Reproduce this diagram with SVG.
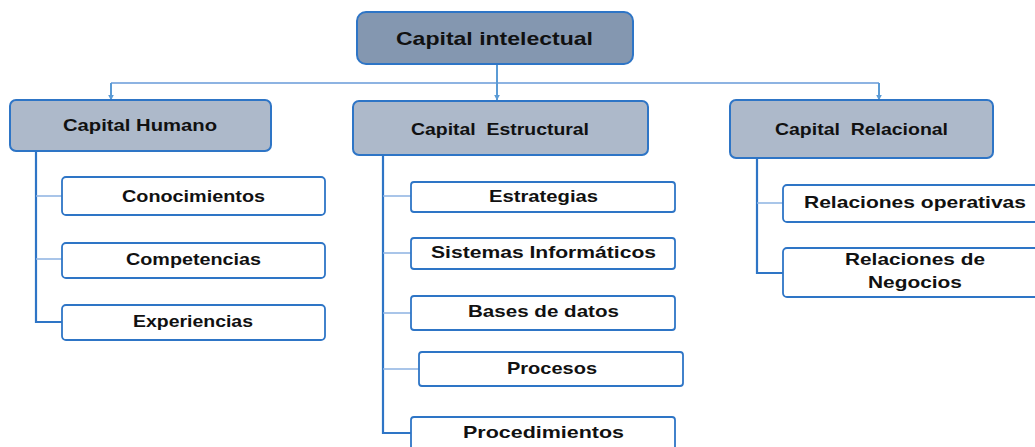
<svg xmlns="http://www.w3.org/2000/svg" width="1035" height="447" viewBox="0 0 1035 447">
<defs>
<marker id="ah" viewBox="0 0 10 10" refX="9" refY="5" markerWidth="6" markerHeight="6" markerUnits="userSpaceOnUse" orient="auto"><path d="M0,0 L10,5 L0,10 z" fill="#5B9BD5"/></marker>
<style>
.top{fill:#8497B0;stroke:#2E75C6;stroke-width:2}
.l2{fill:#ADB9CA;stroke:#2E75C6;stroke-width:2}
.l3{fill:#FFFFFF;stroke:#2E75C6;stroke-width:1.8}
text{font-family:"Liberation Sans",Arial,sans-serif;font-weight:bold;fill:#111;text-anchor:middle;font-size:16.5px}
.tt{font-size:19px}
.trunk{fill:none;stroke:#2E75C6;stroke-width:2.2}
.br{fill:none;stroke:#8DB3E2;stroke-width:1.5}
.hl{fill:none;stroke:#8DB3E2;stroke-width:1.8}
.ar{fill:none;stroke:#5B9BD5;stroke-width:2;marker-end:url(#ah)}
</style>
</defs>
<g id="connectors">
<path class="hl" d="M111,83 H879"/>
<path class="ar" d="M497,64 V100"/>
<path class="ar" d="M111,83 V100"/>
<path class="ar" d="M879,83 V100"/>
<path class="trunk" d="M36,151 V322 H62"/>
<path class="br" d="M36,196 H62 M36,259 H62"/>
<path class="trunk" d="M383,155 V433 H411"/>
<path class="br" d="M383,196 H411 M383,253 H411 M383,313 H411 M383,369 H419"/>
<path class="trunk" d="M757,158 V273 H783"/>
<path class="br" d="M757,203 H783"/>
</g>
<g id="capital-intelectual"><rect class="top" x="357" y="12" width="276" height="52" rx="9"/><text class="tt" x="494.5" y="45" textLength="197" lengthAdjust="spacingAndGlyphs">Capital intelectual</text></g>
<g id="capital-humano"><rect class="l2" x="10" y="100" width="261" height="51" rx="6"/><text x="140" y="131" textLength="154" lengthAdjust="spacingAndGlyphs">Capital Humano</text></g>
<g id="conocimientos"><rect class="l3" x="62" y="177" width="263" height="38" rx="4"/><text x="193.5" y="202" textLength="143" lengthAdjust="spacingAndGlyphs">Conocimientos</text></g>
<g id="competencias"><rect class="l3" x="62" y="243" width="263" height="35" rx="4"/><text x="193.5" y="265" textLength="135" lengthAdjust="spacingAndGlyphs">Competencias</text></g>
<g id="experiencias"><rect class="l3" x="62" y="305" width="263" height="35" rx="4"/><text x="193" y="327" textLength="120" lengthAdjust="spacingAndGlyphs">Experiencias</text></g>
<g id="capital-estructural"><rect class="l2" x="353" y="101" width="295" height="54" rx="6"/><text x="500" y="135" textLength="178" lengthAdjust="spacingAndGlyphs" xml:space="preserve">Capital  Estructural</text></g>
<g id="estrategias"><rect class="l3" x="411" y="182" width="264" height="30" rx="3"/><text x="543.5" y="202" textLength="109" lengthAdjust="spacingAndGlyphs">Estrategias</text></g>
<g id="sistemas"><rect class="l3" x="411" y="238" width="264" height="31" rx="3"/><text x="543.5" y="258" textLength="225" lengthAdjust="spacingAndGlyphs">Sistemas Informáticos</text></g>
<g id="bases"><rect class="l3" x="411" y="296" width="264" height="34" rx="3"/><text x="543.5" y="317" textLength="151" lengthAdjust="spacingAndGlyphs">Bases de datos</text></g>
<g id="procesos"><rect class="l3" x="419" y="352" width="264" height="34" rx="3"/><text x="552" y="374" textLength="90" lengthAdjust="spacingAndGlyphs">Procesos</text></g>
<g id="procedimientos"><rect class="l3" x="411" y="417" width="264" height="40" rx="3"/><text x="543.5" y="438" textLength="161" lengthAdjust="spacingAndGlyphs">Procedimientos</text></g>
<g id="capital-relacional"><rect class="l2" x="730" y="100" width="263" height="58" rx="6"/><text x="861.5" y="135" textLength="173" lengthAdjust="spacingAndGlyphs" xml:space="preserve">Capital  Relacional</text></g>
<g id="relaciones-operativas"><rect class="l3" x="783" y="185" width="264" height="37" rx="4"/><text x="915" y="208" textLength="222" lengthAdjust="spacingAndGlyphs">Relaciones operativas</text></g>
<g id="relaciones-negocios"><rect class="l3" x="783" y="248" width="264" height="49" rx="4"/><text x="915" y="265" textLength="140" lengthAdjust="spacingAndGlyphs">Relaciones de</text><text x="915" y="288" textLength="94" lengthAdjust="spacingAndGlyphs">Negocios</text></g>
</svg>
